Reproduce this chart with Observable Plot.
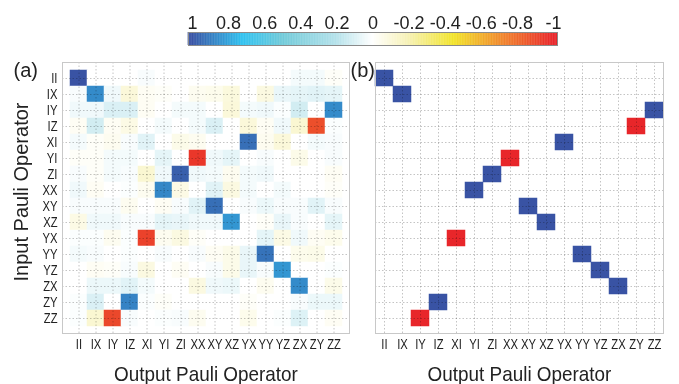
<!DOCTYPE html>
<html>
<head>
<meta charset="utf-8">
<script src="https://cdn.jsdelivr.net/npm/d3@7"></script>
<script src="https://cdn.jsdelivr.net/npm/@observablehq/plot@0.6"></script>
<style>
html, body { margin: 0; padding: 0; background: #fff; }
#chart { position: relative; width: 679px; height: 384px; overflow: hidden; background: #fff; }
#chart svg { position: absolute; overflow: visible; }
</style>
</head>
<body>
<div id="chart"></div>
<script>
// ---- data ----
const paulis = ["II","IX","IY","IZ","XI","YI","ZI","XX","XY","XZ","YX","YY","YZ","ZX","ZY","ZZ"];

// (a) measured process matrix: rows = input operator, columns = output operator
const rowII = [1.0, 0, 0, 0, 0.02, 0, 0, 0, 0, 0, 0, 0, 0, 0.03, 0.03, -0.02];
const rowIX = [0.02, 0.86, 0.04, -0.1, -0.03, -0.02, 0, -0.04, -0.05, -0.09, 0, -0.08, 0.06, 0.07, 0.08, 0.07];
const rowIY = [0.04, 0.04, 0.1, 0.1, -0.03, 0, 0.03, 0.03, 0, -0.1, 0.03, 0.04, 0.01, 0.12, 0, 0.86];
const rowIZ = [-0.03, 0.12, -0.03, -0.07, 0, 0.03, 0, 0.03, 0.1, 0, -0.1, -0.03, 0.04, -0.12, -0.88, 0.01];
const rowXI = [0.03, -0.02, -0.04, 0.02, 0.08, 0, -0.06, -0.04, 0, 0, 0.93, -0.04, -0.1, 0, 0.03, 0.02];
const rowYI = [-0.02, -0.02, 0.03, 0.03, 0, 0.07, 0, -0.95, 0.04, 0.07, 0, 0.02, 0, -0.06, 0, 0.02];
const rowZI = [0.02, -0.02, 0.03, 0.02, -0.12, 0.04, 0.97, 0.04, 0.03, -0.04, 0.03, 0.04, 0, 0, 0, -0.03];
const rowXX = [0.04, -0.03, 0, 0.01, -0.04, 0.87, -0.07, 0, 0.08, -0.08, 0.03, 0, 0.03, 0, 0, -0.02];
const rowXY = [0.02, 0.02, 0.02, -0.04, 0, -0.03, 0.02, 0.08, 0.93, 0, 0.02, 0.05, 0.02, 0.02, 0.08, 0.02];
const rowXZ = [-0.07, 0.04, 0.04, 0.02, 0.02, 0.07, 0.06, 0.04, 0.04, 0.83, 0, -0.02, 0.06, 0.02, 0, 0.07];
const rowYX = [0.01, 0.01, -0.04, 0.01, -0.92, -0.04, -0.08, -0.02, 0, 0, 0, 0.07, -0.07, 0.04, -0.03, -0.05];
const rowYY = [0.03, 0.02, 0, 0.01, 0, 0.02, 0, 0.02, -0.03, -0.06, 0.06, 0.92, 0, -0.05, -0.06, 0];
const rowYZ = [0, -0.03, -0.02, 0.02, -0.08, 0, -0.03, 0, 0.02, -0.06, 0.06, 0.02, 0.83, 0, 0, 0.01];
const rowZX = [0, 0.05, 0.05, 0.08, 0.03, 0, 0, -0.08, 0.04, 0.05, 0, -0.04, 0, 0.86, 0, -0.06];
const rowZY = [0.01, 0.1, 0, 0.88, 0.01, -0.02, 0, 0, 0, 0, -0.02, 0, 0, 0.02, 0.05, 0.05];
const rowZZ = [0.01, -0.12, -0.9, 0.02, 0, 0.01, 0.02, -0.04, 0, 0, -0.05, 0, 0.01, 0.09, 0, -0.03];
const measured = [rowII,rowIX,rowIY,rowIZ,rowXI,rowYI,rowZI,rowXX,rowXY,rowXZ,rowYX,rowYY,rowYZ,rowZX,rowZY,rowZZ];

// (b) ideal: each input maps to one output with sign
const idealOutput = ["II","IX","ZZ","ZY","YX","XX","ZI","YI","XY","XZ","XI","YY","YZ","ZX","IZ","IY"];
const idealSign   = [1, 1, 1, -1, 1, -1, 1, 1, 1, 1, -1, 1, 1, 1, 1, -1];

// colour bar
const colorStops = [-1, -0.75, -0.45, -0.2, 0, 0.2, 0.5, 0.72, 1];
const colorRange = ["#e8262a", "#f07c2c", "#f2e42a", "#f6f1b4", "#ffffff", "#b4e1ea", "#70cad9", "#2fc2f0", "#3953a4"];
const colorTicks = [1, 0.8, 0.6, 0.4, 0.2, 0, -0.2, -0.4, -0.6, -0.8, -1];
const colorTickLabels = ["1", "0.8", "0.6", "0.4", "0.2", "0", "-0.2", "-0.4", "-0.6", "-0.8", "-1"];

const xTitle = "Output Pauli Operator";
const yTitle = "Input Pauli Operator";
const panelLabels = ["(a)", "(b)"];

// ---- build ----
const FONT = "'Liberation Sans', Arial, Helvetica, sans-serif";
const colorScale = {type: "linear", domain: colorStops, range: colorRange, clamp: true};

const measuredCells = paulis.flatMap((inp, i) => paulis.map((out, j) => ({inp, out, v: measured[i][j]})));
const idealCells = paulis.map((inp, i) => ({inp, out: idealOutput[i], v: idealSign[i]}));

const gridStyle = {stroke: "#c4c4c4", strokeOpacity: 1, strokeDasharray: "1.5,2", mixBlendMode: "multiply"};

function panel(cells, {width, marginLeft, marginRight, showY, label, labelDx}) {
  return Plot.plot({
    width, height: 334,
    marginTop: 12, marginBottom: 51, marginLeft, marginRight,
    style: {fontFamily: FONT, background: "transparent", color: "#222"},
    x: {domain: paulis, padding: 0},
    y: {domain: paulis, padding: 0, axis: showY ? undefined : null},
    color: colorScale,
    marks: [
      Plot.cell(cells, {x: "out", y: "inp", fill: "v", stroke: "v", strokeWidth: 0.5}),
      Plot.gridX(gridStyle),
      Plot.gridY(gridStyle),
      Plot.frame({stroke: "#c8c8c8"}),
      Plot.axisX({tickSize: 0, tickPadding: 5, fontSize: 15, label: null}),
      showY ? Plot.axisY({tickSize: 0, tickPadding: 5, fontSize: 15, label: null}) : null,
      Plot.text([xTitle], {frameAnchor: "bottom", textAnchor: "middle", dy: 47, lineAnchor: "bottom", fontSize: 21}),
      showY ? Plot.text([yTitle], {frameAnchor: "left", textAnchor: "middle", lineAnchor: "middle", rotate: -90, dx: -41, dy: -6, fontSize: 20}) : null,
      Plot.text([label], {frameAnchor: "top-left", textAnchor: "start", lineAnchor: "top", dx: labelDx, dy: 0, fontSize: 20})
    ]
  });
}

const chart = document.getElementById("chart");

const bar = Plot.plot({
  width: 679, height: 50,
  marginLeft: 188, marginRight: 122, marginTop: 32, marginBottom: 5,
  style: {fontFamily: FONT, background: "transparent", color: "#222"},
  x: {domain: [1.022, -1.022]},
  color: colorScale,
  marks: [
    Plot.barX(d3.range(-1.022, 1.022, 0.004), {x1: d => d, x2: d => d + 0.006, fill: d => d}),
    Plot.frame({stroke: "#8a8a8a"}),
    Plot.axisX(colorTicks, {anchor: "top", tickSize: 0, tickPadding: 4, fontSize: 18,
      tickFormat: d => colorTickLabels[colorTicks.indexOf(d)], label: null})
  ]
});
bar.style.left = "0px"; bar.style.top = "0px";

const pa = panel(measuredCells, {width: 352, marginLeft: 62, marginRight: 3, showY: true, label: panelLabels[0], labelDx: -49});
pa.style.left = "0px"; pa.style.top = "50px";

const pb = panel(idealCells, {width: 330, marginLeft: 26, marginRight: 16, showY: false, label: panelLabels[1], labelDx: -25});
pb.style.left = "349px"; pb.style.top = "50px";

chart.append(bar, pa, pb);

// condense labels horizontally like the original figure
function squeezeText(t, sx) {
  const tr = t.getAttribute("transform") || "";
  t.setAttribute("transform", tr + ` scale(${sx},1)`);
}
for (const svg of [pa, pb]) {
  svg.querySelectorAll('g[aria-label="x-axis tick label"] text, g[aria-label="y-axis tick label"] text')
    .forEach(t => squeezeText(t, 0.75));
  svg.querySelectorAll("text").forEach(t => { if (t.textContent === xTitle) squeezeText(t, 0.9); });
}
</script>
</body>
</html>
